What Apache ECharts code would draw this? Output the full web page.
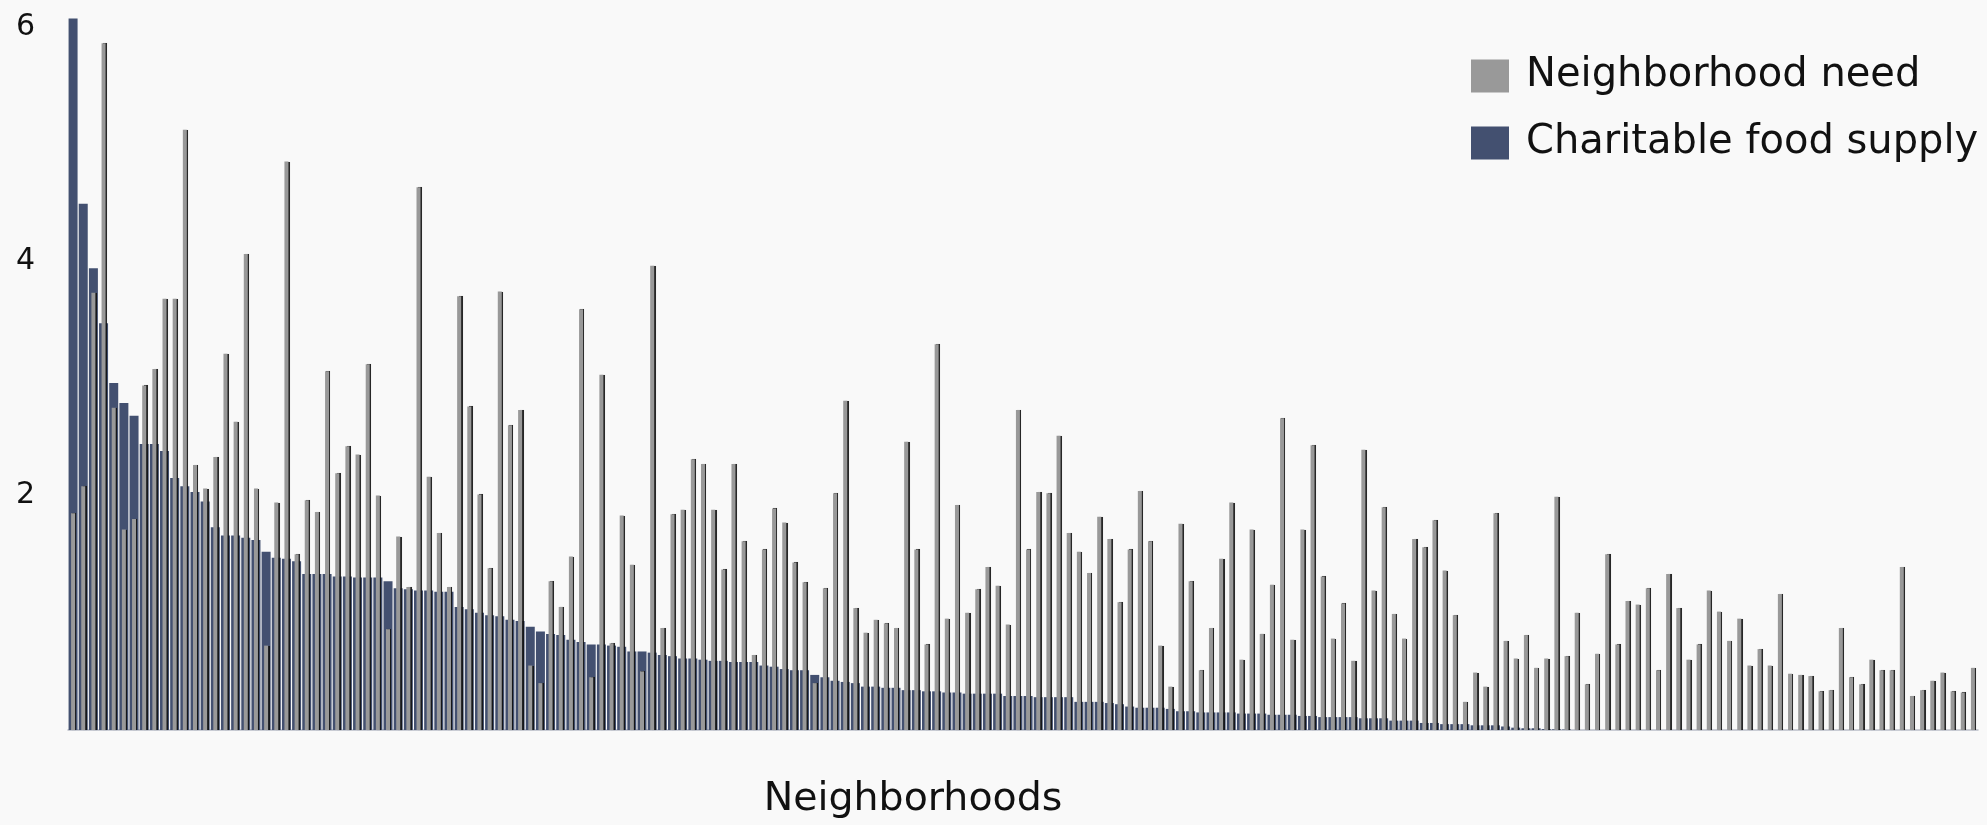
<!DOCTYPE html>
<html>
<head>
<meta charset="utf-8">
<script src="https://cdn.jsdelivr.net/npm/echarts@6/dist/echarts.min.js"></script>
<style>
html,body{margin:0;padding:0;background:#f9f9f9;}
#chart{width:1987px;height:825px;}
</style>
</head>
<body>
<div id="chart"></div>
<script>
// Neighborhood need (grey), one value per neighborhood, in chart order
const needValues = [
1.85,2.08,3.73,5.86,2.75,1.71,1.80,2.94,3.08,3.68,
3.68,5.12,2.26,2.06,2.33,3.21,2.63,4.06,2.06,0.72,
1.94,4.85,1.50,1.96,1.86,3.06,2.19,2.42,2.35,3.12,
2.00,0.86,1.65,1.22,4.63,2.16,1.68,1.22,3.70,2.76,
2.01,1.38,3.74,2.60,2.73,0.55,0.40,1.27,1.05,1.48,
3.59,0.45,3.03,0.74,1.83,1.41,0.50,3.96,0.87,1.84,
1.88,2.31,2.27,1.88,1.37,2.27,1.61,0.64,1.54,1.89,
1.77,1.43,1.26,0.40,1.21,2.02,2.81,1.04,0.83,0.94,
0.91,0.87,2.46,1.54,0.73,3.29,0.95,1.92,1.00,1.20,
1.39,1.23,0.90,2.73,1.54,2.03,2.02,2.51,1.68,1.52,
1.34,1.82,1.63,1.09,1.54,2.04,1.61,0.72,0.37,1.76,
1.27,0.51,0.87,1.46,1.94,0.60,1.71,0.82,1.24,2.66,
0.77,1.71,2.43,1.31,0.78,1.08,0.59,2.39,1.19,1.90,
0.99,0.78,1.63,1.56,1.79,1.36,0.98,0.24,0.49,0.37,
1.85,0.76,0.61,0.81,0.53,0.61,1.99,0.63,1.00,0.39,
0.65,1.50,0.73,1.10,1.07,1.21,0.51,1.33,1.04,0.60,
0.73,1.19,1.01,0.76,0.95,0.55,0.69,0.55,1.16,0.48,
0.47,0.46,0.33,0.34,0.87,0.45,0.39,0.60,0.51,0.51,
1.39,0.29,0.34,0.42,0.49,0.33,0.32,0.53
];

// Charitable food supply (blue), same neighborhoods, sorted high to low
const supplyValues = [
6.07,4.49,3.94,3.47,2.96,2.79,2.68,2.44,2.44,2.38,
2.15,2.08,2.03,1.95,1.73,1.66,1.66,1.64,1.62,1.52,
1.47,1.46,1.44,1.33,1.33,1.33,1.31,1.31,1.30,1.30,
1.30,1.27,1.21,1.20,1.19,1.19,1.18,1.18,1.05,1.03,
1.00,0.98,0.97,0.94,0.93,0.88,0.84,0.82,0.81,0.77,
0.75,0.73,0.73,0.72,0.71,0.67,0.67,0.66,0.64,0.63,
0.61,0.61,0.60,0.59,0.59,0.58,0.58,0.58,0.55,0.54,
0.52,0.51,0.51,0.47,0.45,0.42,0.41,0.40,0.37,0.37,
0.36,0.36,0.34,0.34,0.33,0.33,0.32,0.32,0.31,0.31,
0.31,0.31,0.29,0.29,0.29,0.28,0.28,0.28,0.28,0.24,
0.24,0.24,0.23,0.22,0.20,0.19,0.19,0.19,0.18,0.16,
0.16,0.15,0.15,0.15,0.15,0.14,0.14,0.14,0.13,0.13,
0.13,0.12,0.12,0.11,0.11,0.11,0.11,0.10,0.10,0.10,
0.08,0.08,0.08,0.06,0.06,0.05,0.05,0.05,0.04,0.04,
0.04,0.03,0.02,0.015,0.015,0.008,0.006,0.004,0,0,
0,0,0,0,0,0,0,0,0,0,
0,0,0,0,0,0,0,0,0,0,
0,0,0,0,0,0,0,0,0,0,
0,0,0,0,0,0,0,0
];

// neighborhood labels (not shown on the chart)
const categories = needValues.map(function (v, i) { return 'Neighborhood ' + (i + 1); });

const yTickLabels = ['2', '4', '6'];

const seriesNames = ['Neighborhood need', 'Charitable food supply'];
const axisTitle = 'Neighborhoods';

const FONT = 'DejaVu Sans';

const chart = echarts.init(document.getElementById('chart'), null, {renderer: 'canvas'});

chart.setOption({
  backgroundColor: '#f9f9f9',
  animation: false,
  grid: {left: 68, right: 9, top: 15, bottom: 86},
  legend: {
    orient: 'vertical',
    left: 1466,
    top: 51,
    itemWidth: 38,
    itemHeight: 33,
    itemGap: 27,
    icon: 'rect',
    data: seriesNames,
    itemStyle: {shadowBlur: 0, shadowOffsetX: 0, shadowOffsetY: 0, shadowColor: 'rgba(0,0,0,0)'},
    textStyle: {fontFamily: FONT, fontSize: 40, lineHeight: 40, color: '#111', padding: [0, 0, 0, 12]}
  },
  xAxis: [
    {
      type: 'category',
      data: categories,
      boundaryGap: true,
      axisLine: {show: true, lineStyle: {color: '#b9bdc7', width: 1.5}},
      axisTick: {show: false},
      axisLabel: {show: false},
      splitLine: {show: false},
      name: axisTitle,
      nameLocation: 'middle',
      nameGap: 50,
      nameTextStyle: {fontFamily: FONT, fontSize: 39.5, color: '#111', padding: [0, 220, 0, 0]}
    },
    {
      type: 'category',
      data: categories,
      boundaryGap: true,
      show: false,
      position: 'bottom'
    }
  ],
  yAxis: {
    type: 'value',
    min: 0,
    max: 6.1,
    interval: 2,
    axisLine: {show: false},
    axisTick: {show: false},
    splitLine: {show: false},
    axisLabel: {
      fontFamily: FONT,
      fontSize: 30,
      color: '#111',
      margin: 33,
      formatter: function (v) {
        const s = String(v);
        return yTickLabels.indexOf(s) >= 0 ? s : '';
      }
    }
  },
  series: [
    {
      name: seriesNames[0],
      type: 'bar',
      xAxisIndex: 1,
      data: needValues,
      barWidth: 4,
      z: 3,
      itemStyle: {
        color: '#999999',
        shadowColor: 'rgba(15,15,15,0.9)',
        shadowBlur: 0.5,
        shadowOffsetX: 1.4,
        shadowOffsetY: 0
      }
    },
    {
      name: seriesNames[1],
      type: 'bar',
      xAxisIndex: 0,
      data: supplyValues,
      barWidth: 9,
      z: 2,
      itemStyle: {color: '#435070'}
    }
  ]
});
</script>
</body>
</html>
